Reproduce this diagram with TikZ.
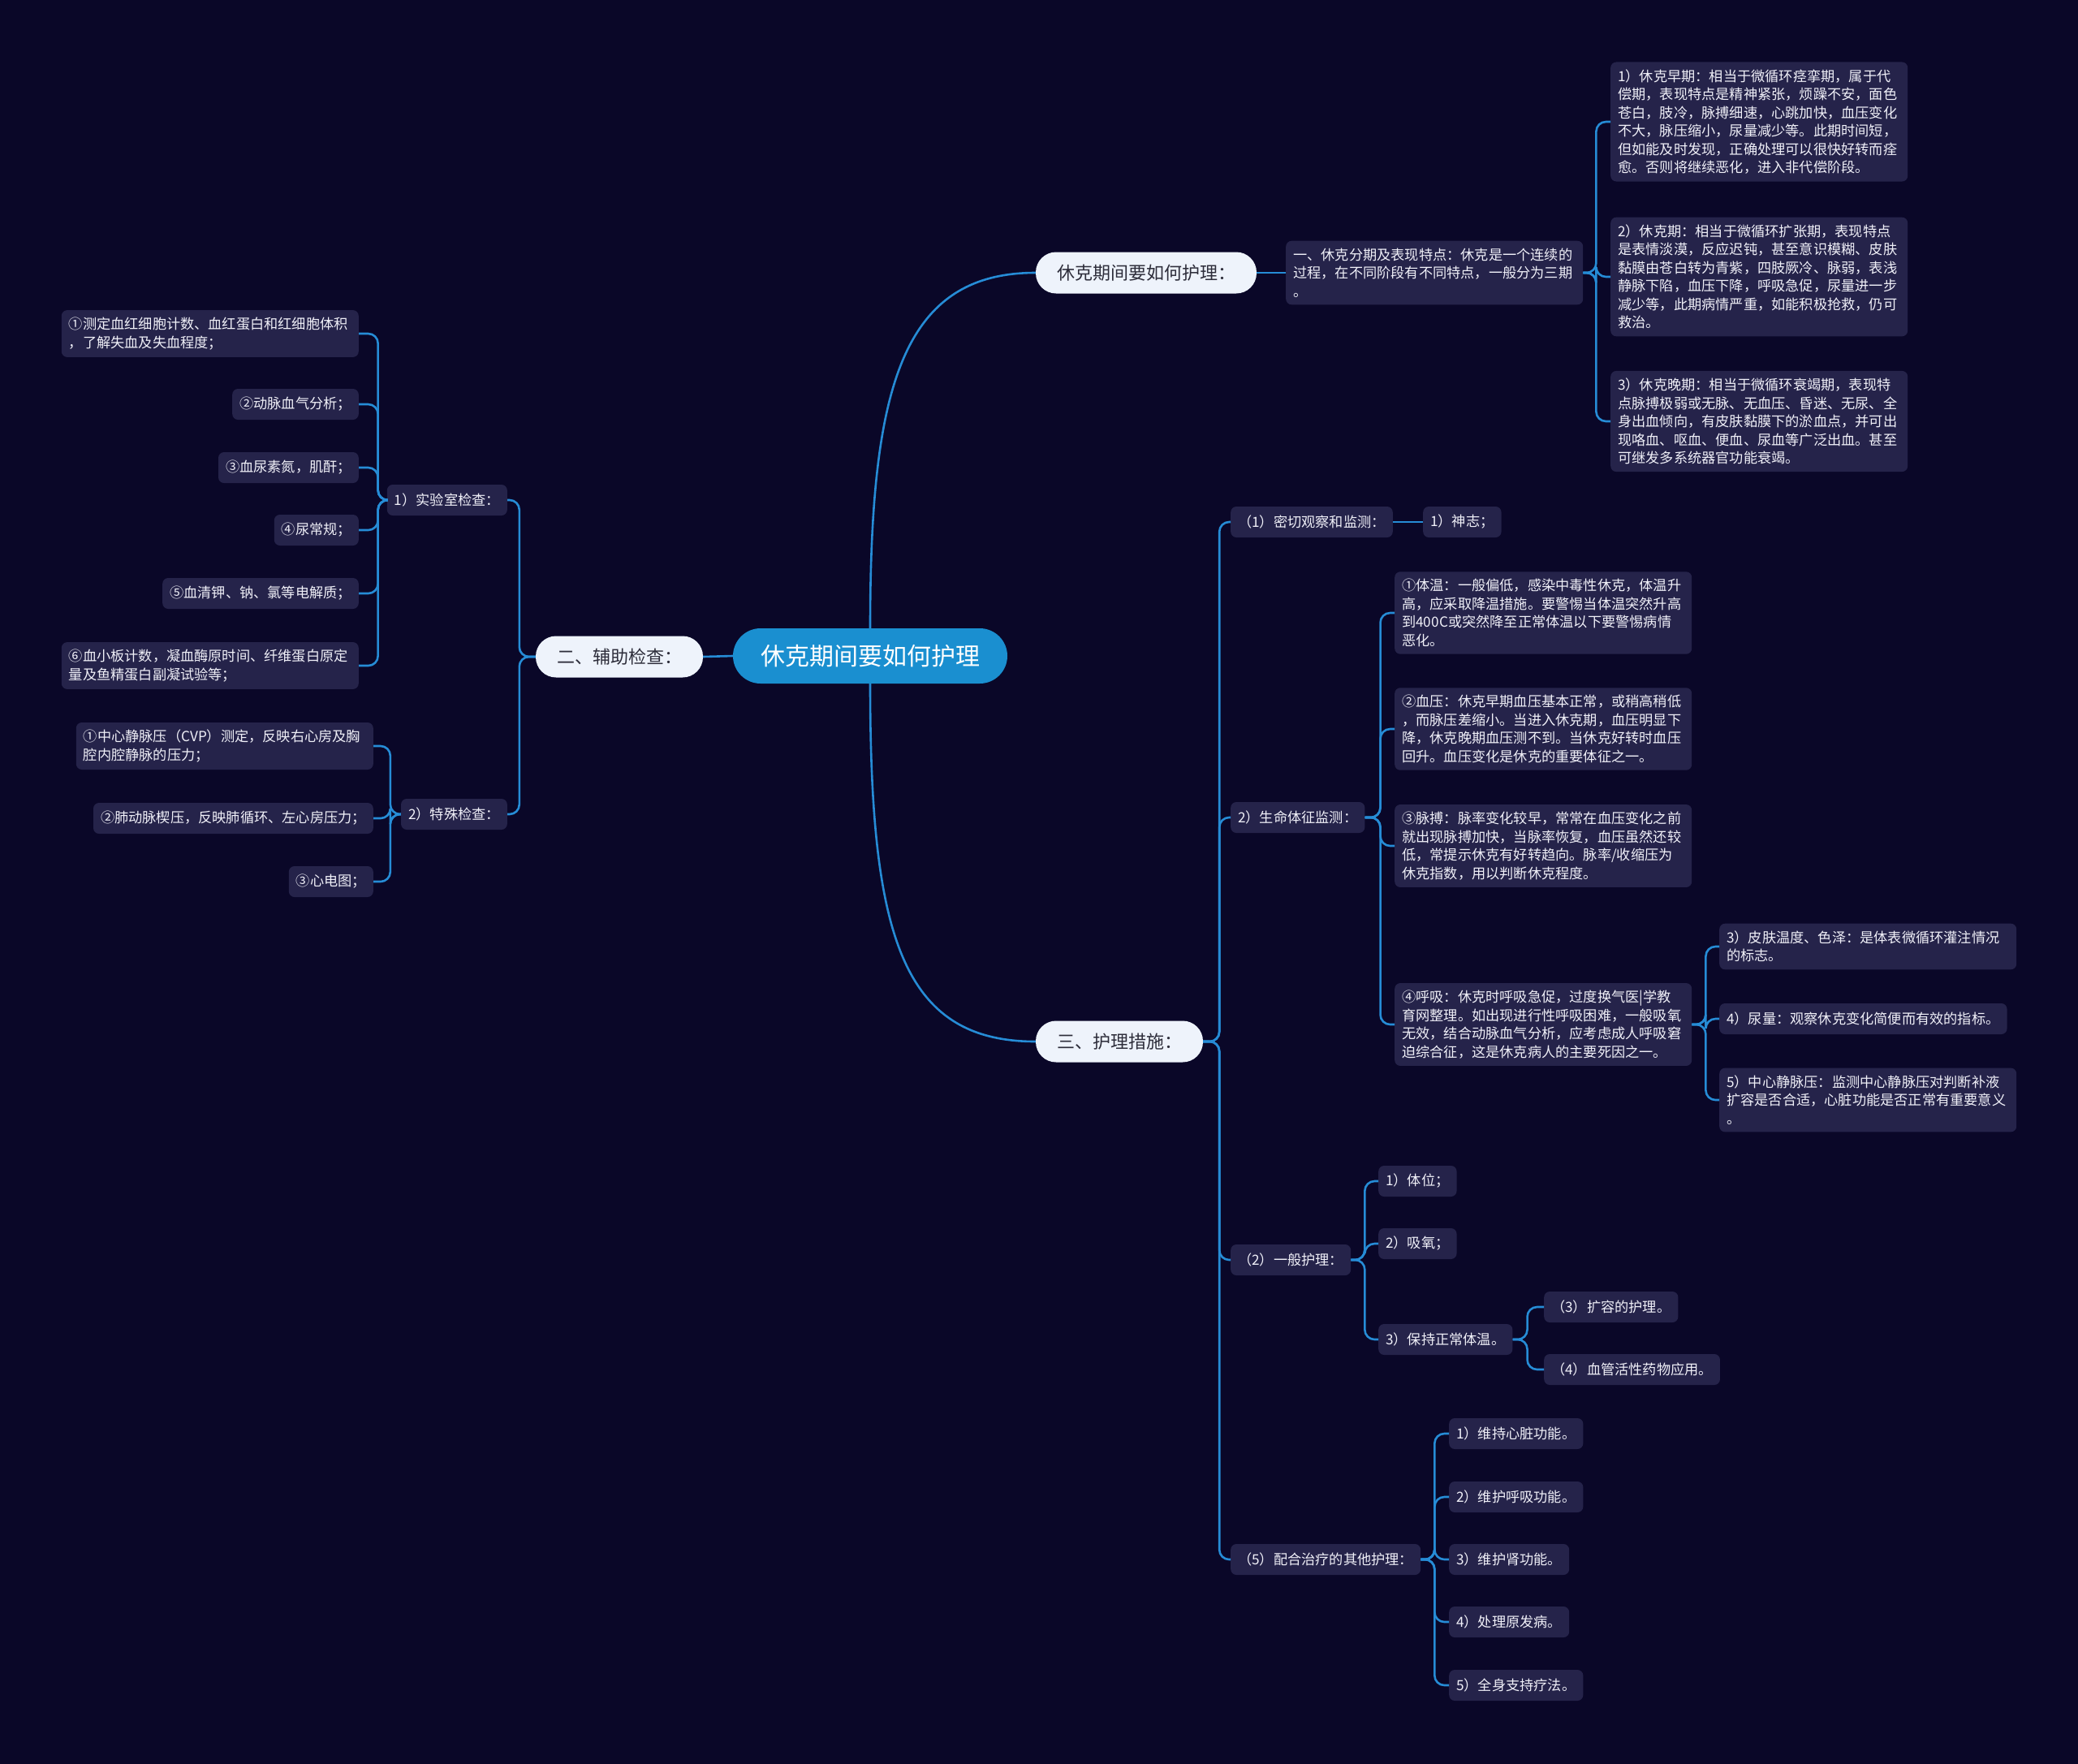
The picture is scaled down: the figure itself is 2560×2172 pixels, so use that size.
\documentclass[tikz,border=0pt]{standalone}
\usepackage{fontspec}
\newfontfamily\cjk{Noto Sans CJK SC}
\definecolor{bg}{RGB}{10,7,40}
\definecolor{boxc}{RGB}{37,35,74}
\definecolor{lnc}{RGB}{38,140,214}
\definecolor{rootc}{RGB}{26,143,208}
\definecolor{l1c}{RGB}{238,243,251}
\definecolor{l1t}{RGB}{45,45,58}
\definecolor{txt}{RGB}{240,240,248}
\begin{document}
\begin{tikzpicture}[x=1pt,y=-1pt,
 leaf/.style={fill=boxc, rounded corners=7pt, text=txt, font=\cjk\fontsize{17.2}{22.5}\selectfont, inner xsep=9pt, inner ysep=9pt, align=left, minimum height=38pt},
 para/.style={leaf, text width=348pt},
 lone/.style={fill=l1c, text=l1t, rounded corners=25pt, minimum height=51pt, inner xsep=26pt, font=\cjk\fontsize{22}{26}\selectfont},
 rootnode/.style={fill=rootc, text=white, rounded corners=34pt, minimum height=68pt, inner xsep=34pt, font=\cjk\fontsize{30}{34}\selectfont},
 conn/.style={draw=lnc, line width=2.6pt, rounded corners=12pt},
]
\useasboundingbox (0,0) rectangle (2560,2172);
\fill[bg] (-10,-10) rectangle (2570,2182);

% root and level 1
\node[rootnode] (root) at (1072,808) {休克期间要如何护理};
\node[lone] (A) at (1412,336) {休克期间要如何护理：};
\node[lone] (B) at (763,809) {二、辅助检查：};
\node[lone] (C) at (1379,1283) {三、护理措施：};

% branch A
\node[para, anchor=west] (A1) at (1584,336) {一、休克分期及表现特点：休克是一个连续的\\过程，在不同阶段有不同特点，一般分为三期\\。};
\node[para, anchor=west] (A11) at (1984,150) {1）休克早期：相当于微循环痉挛期，属于代\\偿期，表现特点是精神紧张，烦躁不安，面色\\苍白，肢冷，脉搏细速，心跳加快，血压变化\\不大，脉压缩小，尿量减少等。此期时间短，\\但如能及时发现，正确处理可以很快好转而痊\\愈。否则将继续恶化，进入非代偿阶段。};
\node[para, anchor=west] (A12) at (1984,341) {2）休克期：相当于微循环扩张期，表现特点\\是表情淡漠，反应迟钝，甚至意识模糊、皮肤\\黏膜由苍白转为青紫，四肢厥冷、脉弱，表浅\\静脉下陷，血压下降，呼吸急促，尿量进一步\\减少等，此期病情严重，如能积极抢救，仍可\\救治。};
\node[para, anchor=west] (A13) at (1984,519) {3）休克晚期：相当于微循环衰竭期，表现特\\点脉搏极弱或无脉、无血压、昏迷、无尿、全\\身出血倾向，有皮肤黏膜下的淤血点，并可出\\现咯血、呕血、便血、尿血等广泛出血。甚至\\可继发多系统器官功能衰竭。};

% branch B
\node[leaf, anchor=east] (B1) at (625,616) {1）实验室检查：};
\node[leaf, anchor=east] (B2) at (625,1003) {2）特殊检查：};
\node[para, anchor=east] (B11) at (442,411) {①测定血红细胞计数、血红蛋白和红细胞体积\\，了解失血及失血程度；};
\node[leaf, anchor=east] (B12) at (442,498) {②动脉血气分析；};
\node[leaf, anchor=east] (B13) at (442,576) {③血尿素氮，肌酐；};
\node[leaf, anchor=east] (B14) at (442,653) {④尿常规；};
\node[leaf, anchor=east] (B15) at (442,731) {⑤血清钾、钠、氯等电解质；};
\node[para, anchor=east] (B16) at (442,820) {⑥血小板计数，凝血酶原时间、纤维蛋白原定\\量及鱼精蛋白副凝试验等；};
\node[para, anchor=east] (B21) at (460,919) {①中心静脉压（CVP）测定，反映右心房及胸\\腔内腔静脉的压力；};
\node[leaf, anchor=east] (B22) at (460,1008) {②肺动脉楔压，反映肺循环、左心房压力；};
\node[leaf, anchor=east] (B23) at (460,1086) {③心电图；};

% branch C
\node[leaf, anchor=west] (C1) at (1516,643) {（1）密切观察和监测：};
\node[leaf, anchor=west] (C1a) at (1753,643) {1）神志；};
\node[leaf, anchor=west] (C2) at (1516,1007) {2）生命体征监测：};
\node[para, anchor=west] (C21) at (1718,755) {①体温：一般偏低，感染中毒性休克，体温升\\高，应采取降温措施。要警惕当体温突然升高\\到400C或突然降至正常体温以下要警惕病情\\恶化。};
\node[para, anchor=west] (C22) at (1718,898) {②血压：休克早期血压基本正常，或稍高稍低\\，而脉压差缩小。当进入休克期，血压明显下\\降，休克晚期血压测不到。当休克好转时血压\\回升。血压变化是休克的重要体征之一。};
\node[para, anchor=west] (C23) at (1718,1042) {③脉搏：脉率变化较早，常常在血压变化之前\\就出现脉搏加快，当脉率恢复，血压虽然还较\\低，常提示休克有好转趋向。脉率/收缩压为\\休克指数，用以判断休克程度。};
\node[para, anchor=west] (C24) at (1718,1262) {④呼吸：休克时呼吸急促，过度换气医|学教\\育网整理。如出现进行性呼吸困难，一般吸氧\\无效，结合动脉血气分析，应考虑成人呼吸窘\\迫综合征，这是休克病人的主要死因之一。};
\node[para, anchor=west] (C241) at (2118,1166) {3）皮肤温度、色泽：是体表微循环灌注情况\\的标志。};
\node[leaf, anchor=west] (C242) at (2118,1255) {4）尿量：观察休克变化简便而有效的指标。};
\node[para, anchor=west] (C243) at (2118,1355) {5）中心静脉压：监测中心静脉压对判断补液\\扩容是否合适，心脏功能是否正常有重要意义\\。};

\node[leaf, anchor=west] (C3) at (1516,1552) {（2）一般护理：};
\node[leaf, anchor=west] (C31) at (1698,1455) {1）体位；};
\node[leaf, anchor=west] (C32) at (1698,1532) {2）吸氧；};
\node[leaf, anchor=west] (C33) at (1698,1650) {3）保持正常体温。};
\node[leaf, anchor=west] (C331) at (1902,1610) {（3）扩容的护理。};
\node[leaf, anchor=west] (C332) at (1902,1687) {（4）血管活性药物应用。};

\node[leaf, anchor=west] (C4) at (1516,1921) {（5）配合治疗的其他护理：};
\node[leaf, anchor=west] (C41) at (1785,1766) {1）维持心脏功能。};
\node[leaf, anchor=west] (C42) at (1785,1844) {2）维护呼吸功能。};
\node[leaf, anchor=west] (C43) at (1785,1921) {3）维护肾功能。};
\node[leaf, anchor=west] (C44) at (1785,1998) {4）处理原发病。};
\node[leaf, anchor=west] (C45) at (1785,2076) {5）全身支持疗法。};

% connectors
\draw[conn] (root.north) .. controls (1072,480) and (1110,336) .. (A.west);
\draw[conn] (root.west) -- (B.east);
\draw[conn] (root.south) .. controls (1072,1150) and (1110,1283) .. (C.west);

\draw[conn] (A.east) -- (A1.west);
\foreach \c in {A11,A12,A13} \draw[conn] (A1.east) -- ++(16,0) |- (\c.west);

\foreach \c in {B1,B2} \draw[conn] (B.west) -- ++(-20,0) |- (\c.east);
\foreach \c in {B11,B12,B13,B14,B15,B16} \draw[conn] (B1.west) -- ++(-11,0) |- (\c.east);
\foreach \c in {B21,B22,B23} \draw[conn] (B2.west) -- ++(-13,0) |- (\c.east);

\foreach \c in {C1,C2,C3,C4} \draw[conn] (C.east) -- ++(20,0) |- (\c.west);
\draw[conn] (C1.east) -- (C1a.west);
\foreach \c in {C21,C22,C23,C24} \draw[conn] (C2.east) -- ++(19,0) |- (\c.west);
\foreach \c in {C241,C242,C243} \draw[conn] (C24.east) -- ++(17,0) |- (\c.west);
\foreach \c in {C31,C32,C33} \draw[conn] (C3.east) -- ++(17,0) |- (\c.west);
\foreach \c in {C331,C332} \draw[conn] (C33.east) -- ++(18,0) |- (\c.west);
\foreach \c in {C41,C42,C43,C44,C45} \draw[conn] (C4.east) -- ++(17,0) |- (\c.west);
\end{tikzpicture}
\end{document}
